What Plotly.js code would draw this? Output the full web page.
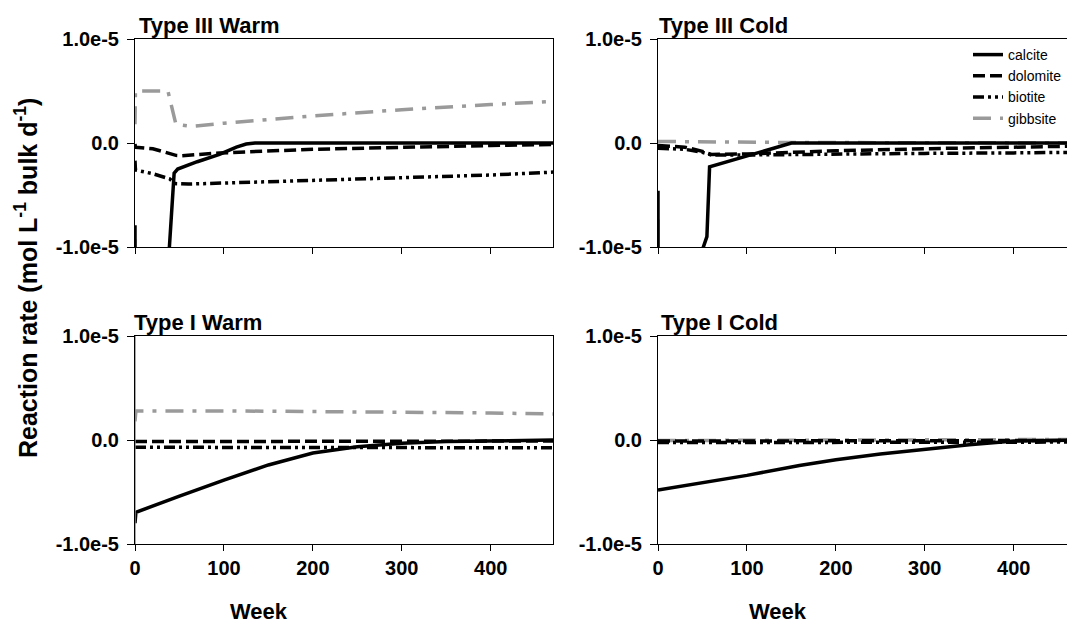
<!DOCTYPE html>
<html><head><meta charset="utf-8">
<script src="https://cdn.plot.ly/plotly-3.0.1.min.js"></script>
<style>html,body{margin:0;padding:0;overflow:hidden;background:#fff}#chart{width:1080px;height:626px}</style>
</head><body><div id="chart"></div>
<script>
// ---------------- data ----------------
const mineralNames = ['calcite', 'dolomite', 'biotite', 'gibbsite'];
const panelTitles = ['Type III Warm', 'Type III Cold', 'Type I Warm', 'Type I Cold'];
const xTickVals = [0, 100, 200, 300, 400];
const xTickText = ['0', '100', '200', '300', '400'];
const yTickVals = [-1e-5, 0, 1e-5];
const yTickText = ['-1.0e-5', '0.0', '1.0e-5'];

// Type III Warm
const weekIIIW_calcite = [0, 0.1, 20, 38.3, 44, 48, 70, 95, 114, 125, 135, 470];
const rateIIIW_calcite = [-7.9e-6, -1.1e-5, null, -1.05e-5, -2.9e-6, -2.5e-6, -1.8e-6, -1.1e-6, -0.4e-6, -0.1e-6, 0, 0];
const weekIIIW_dolomite = [0, 0.5, 20, 39, 46, 53, 95, 200, 300, 400, 470];
const rateIIIW_dolomite = [-0.1e-6, -0.4e-6, -0.55e-6, -0.96e-6, -1.19e-6, -1.22e-6, -0.96e-6, -0.6e-6, -0.4e-6, -0.24e-6, -0.15e-6];
const weekIIIW_biotite = [0, 0.5, 20, 39, 45, 60, 100, 208, 300, 400, 470];
const rateIIIW_biotite = [-1.7e-6, -2.6e-6, -2.95e-6, -3.45e-6, -3.9e-6, -3.95e-6, -3.85e-6, -3.6e-6, -3.37e-6, -3.08e-6, -2.8e-6];
const weekIIIW_gibbsite = [0, 0.5, 37, 46, 64, 100, 200, 253, 300, 400, 470];
const rateIIIW_gibbsite = [1.8e-6, 5.0e-6, 5.0e-6, 1.8e-6, 1.6e-6, 1.9e-6, 2.6e-6, 2.95e-6, 3.2e-6, 3.7e-6, 4.0e-6];

// Type III Cold
const weekIIIC_calcite = [0, 0.1, 20, 49, 55, 58, 100, 130, 150, 470];
const rateIIIC_calcite = [-4.6e-6, -1.1e-5, null, -1.05e-5, -9.0e-6, -2.3e-6, -1.3e-6, -0.5e-6, 0, 0];
const weekIIIC_dolomite = [0, 30, 50, 60, 100, 200, 300, 400, 470];
const rateIIIC_dolomite = [-0.25e-6, -0.4e-6, -0.8e-6, -1.1e-6, -1.05e-6, -0.75e-6, -0.55e-6, -0.4e-6, -0.3e-6];
const weekIIIC_biotite = [0, 30, 50, 60, 100, 200, 300, 400, 470];
const rateIIIC_biotite = [-0.5e-6, -0.6e-6, -0.9e-6, -1.15e-6, -1.15e-6, -1.05e-6, -1.0e-6, -0.95e-6, -0.9e-6];
const weekIIIC_gibbsite = [0, 50, 150, 470];
const rateIIIC_gibbsite = [0.15e-6, 0.1e-6, 0.05e-6, 0.0];

// Type I Warm
const weekIW_calcite = [0, 1, 50, 100, 150, 200, 250, 300, 350, 400, 470];
const rateIW_calcite = [-8.0e-6, -6.95e-6, -5.4e-6, -3.85e-6, -2.4e-6, -1.25e-6, -0.65e-6, -0.32e-6, -0.15e-6, -0.07e-6, 0];
const weekIW_dolomite = [0, 100, 200, 300, 400, 470];
const rateIW_dolomite = [-0.15e-6, -0.15e-6, -0.15e-6, -0.12e-6, -0.1e-6, -0.1e-6];
const weekIW_biotite = [0, 100, 200, 300, 400, 470];
const rateIW_biotite = [-0.7e-6, -0.72e-6, -0.74e-6, -0.75e-6, -0.75e-6, -0.75e-6];
const weekIW_gibbsite = [0, 1, 100, 200, 300, 400, 470];
const rateIW_gibbsite = [1.8e-6, 2.8e-6, 2.8e-6, 2.75e-6, 2.7e-6, 2.6e-6, 2.5e-6];

// Type I Cold
const weekIC_calcite = [0, 50, 100, 159, 200, 250, 300, 350, 400, 470];
const rateIC_calcite = [-4.8e-6, -4.1e-6, -3.4e-6, -2.45e-6, -1.9e-6, -1.35e-6, -0.9e-6, -0.45e-6, -0.1e-6, 0];
const weekIC_dolomite = [0, 100, 200, 300, 400, 470];
const rateIC_dolomite = [-0.1e-6, -0.1e-6, -0.08e-6, -0.07e-6, -0.05e-6, -0.05e-6];
const weekIC_biotite = [0, 100, 200, 300, 400, 470];
const rateIC_biotite = [-0.25e-6, -0.25e-6, -0.22e-6, -0.2e-6, -0.2e-6, -0.2e-6];
const weekIC_gibbsite = [0, 100, 200, 300, 400, 470];
const rateIC_gibbsite = [-0.05e-6, -0.03e-6, 0.0, 0.02e-6, 0.04e-6, 0.05e-6];

// ---------------- styling ----------------
const FONT = 'Liberation Sans, Arial, sans-serif';
const W = 1080, H = 626;
const px = v => v / W;
const py = v => 1 - v / H;

const lineStyles = {
  calcite:  {color: '#000000', width: 3.5, dash: 'solid'},
  dolomite: {color: '#000000', width: 3.5, dash: '12px,5px'},
  biotite:  {color: '#000000', width: 3.5, dash: '11px,4px,3px,4px,3px,4px'},
  gibbsite: {color: '#9a9a9a', width: 3.5, dash: '18px,9px,4px,9px'}
};

const panels = [
  {x: 'x',  y: 'y',  data: {calcite: [weekIIIW_calcite, rateIIIW_calcite], dolomite: [weekIIIW_dolomite, rateIIIW_dolomite], biotite: [weekIIIW_biotite, rateIIIW_biotite], gibbsite: [weekIIIW_gibbsite, rateIIIW_gibbsite]}},
  {x: 'x2', y: 'y2', data: {calcite: [weekIIIC_calcite, rateIIIC_calcite], dolomite: [weekIIIC_dolomite, rateIIIC_dolomite], biotite: [weekIIIC_biotite, rateIIIC_biotite], gibbsite: [weekIIIC_gibbsite, rateIIIC_gibbsite]}},
  {x: 'x3', y: 'y3', data: {calcite: [weekIW_calcite, rateIW_calcite], dolomite: [weekIW_dolomite, rateIW_dolomite], biotite: [weekIW_biotite, rateIW_biotite], gibbsite: [weekIW_gibbsite, rateIW_gibbsite]}},
  {x: 'x4', y: 'y4', data: {calcite: [weekIC_calcite, rateIC_calcite], dolomite: [weekIC_dolomite, rateIC_dolomite], biotite: [weekIC_biotite, rateIC_biotite], gibbsite: [weekIC_gibbsite, rateIC_gibbsite]}}
];

const traces = [];
const drawOrder = ['gibbsite', 'biotite', 'dolomite', 'calcite'];
panels.forEach((p, pi) => {
  drawOrder.forEach(m => {
    traces.push({
      type: 'scatter', mode: 'lines',
      x: p.data[m][0], y: p.data[m][1],
      xaxis: p.x, yaxis: p.y,
      name: m, legendrank: mineralNames.indexOf(m) + 1,
      showlegend: pi === 1,
      connectgaps: false,
      line: lineStyles[m],
      hoverinfo: 'skip'
    });
  });
});

const tickFont = {family: FONT, size: 20, color: '#000', weight: 'bold'};
function xAx(domain, labels, anchor) {
  return {domain: domain, anchor: anchor, range: [0, 470], tickvals: xTickVals, ticktext: xTickText,
    showticklabels: labels, ticks: 'outside', ticklen: 6, tickwidth: 1, tickcolor: '#000',
    showline: true, linecolor: '#000', linewidth: 1, mirror: true, showgrid: false, zeroline: false,
    tickfont: tickFont, fixedrange: true};
}
function yAx(domain, anchor) {
  return {domain: domain, anchor: anchor, range: [-1e-5, 1e-5], tickvals: yTickVals, ticktext: yTickText,
    ticks: 'outside', ticklen: 7, tickwidth: 1, tickcolor: '#000', ticklabelstandoff: 4,
    showline: true, linecolor: '#000', linewidth: 1, mirror: true, showgrid: false, zeroline: false,
    tickfont: tickFont, fixedrange: true};
}

const xL = [px(135), px(553)], xR = [px(658), px(1076)];
const yT = [py(247), py(39)], yB = [py(544), py(336)];

const titleFont = {family: FONT, size: 22, color: '#000', weight: 'bold'};
const annotations = [
  {text: panelTitles[0], x: px(137), y: py(26), xanchor: 'left', yanchor: 'middle'},
  {text: panelTitles[1], x: px(657), y: py(26), xanchor: 'left', yanchor: 'middle'},
  {text: panelTitles[2], x: px(132), y: py(322), xanchor: 'left', yanchor: 'middle'},
  {text: panelTitles[3], x: px(659), y: py(322), xanchor: 'left', yanchor: 'middle'},
  {text: 'Week', x: px(259), y: py(611), xanchor: 'center', yanchor: 'middle'},
  {text: 'Week', x: px(778), y: py(611), xanchor: 'center', yanchor: 'middle'},
  {text: 'Reaction rate (mol L<sup>-1</sup> bulk d<sup>-1</sup>)', x: px(26), y: py(278), xanchor: 'center', yanchor: 'middle', textangle: -90, font: {family: FONT, size: 25, color: '#000', weight: 'bold'}}
].map(a => Object.assign({xref: 'paper', yref: 'paper', showarrow: false, font: titleFont}, a));

const layout = {
  width: W, height: H,
  margin: {l: 0, r: 0, t: 0, b: 0},
  paper_bgcolor: '#fff', plot_bgcolor: '#fff',
  font: {family: FONT, color: '#000'},
  xaxis:  xAx(xL, false, 'y'),  yaxis:  yAx(yT, 'x'),
  xaxis2: xAx(xR, false, 'y2'), yaxis2: yAx(yT, 'x2'),
  xaxis3: xAx(xL, true, 'y3'),  yaxis3: yAx(yB, 'x3'),
  xaxis4: xAx(xR, true, 'y4'),  yaxis4: yAx(yB, 'x4'),
  showlegend: true,
  legend: {x: px(968), y: py(39), xanchor: 'left', yanchor: 'top', bgcolor: 'rgba(0,0,0,0)',
    font: {family: FONT, size: 14, color: '#000'}, itemwidth: 30, tracegroupgap: 0, traceorder: 'normal'},
  shapes: [
    {type: 'line', xref: 'x3', yref: 'y3 domain', x0: 0, x1: 0, y0: 0, y1: 1, line: {color: '#8a8a8a', width: 1.5}}
  ],
  annotations: annotations
};

Plotly.newPlot('chart', traces, layout, {staticPlot: true, displayModeBar: false, responsive: false});
</script></body></html>
